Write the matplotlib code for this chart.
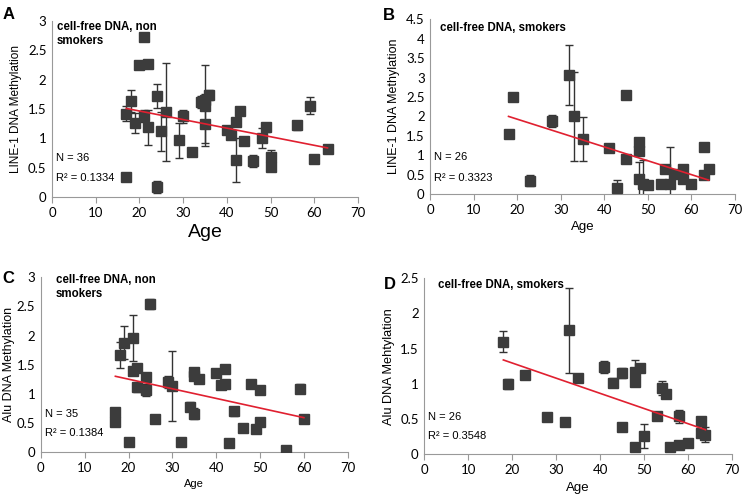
import numpy as np
import matplotlib
matplotlib.use("Agg")
import matplotlib.pyplot as plt

plt.rcParams['font.family'] = ['Liberation Sans', 'DejaVu Sans']

# Panel A - LINE-1, non smokers
age_a = [17, 18, 17, 19, 20, 21, 21, 22, 22, 24, 24, 25, 26, 29, 30, 32, 34, 35,
         35, 36, 35, 40, 41, 42, 42, 43, 44, 46, 48, 49, 50, 50, 56, 59, 60, 63]
val_a = [1.42, 1.64, 0.35, 1.26, 2.25, 2.73, 1.38, 2.26, 1.19, 1.72, 0.17, 1.12, 1.45, 0.97, 1.38, 0.77, 1.62, 1.56,
         1.24, 1.74, 1.66, 1.15, 1.06, 1.28, 0.63, 1.47, 0.96, 0.61, 1.0, 1.19, 0.69, 0.51, 1.22, 1.56, 0.65, 0.82]
err_a = [0.13, 0.19, 0, 0.17, 0, 0, 0.1, 0.05, 0.3, 0.2, 0.1, 0.33, 0.83, 0.3, 0.11, 0, 0.1, 0.69,
         0.32, 0.08, 0.1, 0, 0, 0, 0.38, 0, 0.05, 0.1, 0.17, 0.08, 0.12, 0, 0.07, 0.14, 0, 0]

# Panel B - LINE-1, smokers
age_b = [18, 19, 23, 28, 32, 33, 35, 41, 43, 45, 45, 48, 48, 48, 49, 50, 53, 54, 55, 56, 58, 58, 60, 63, 63, 64]
val_b = [1.55, 2.5, 0.35, 1.88, 3.07, 2.0, 1.42, 1.2, 0.15, 2.56, 0.9, 1.35, 1.1, 0.38, 0.25, 0.24, 0.27, 0.65,
         0.27, 0.52, 0.65, 0.4, 0.25, 1.22, 0.48, 0.65]
err_b = [0.05, 0, 0.15, 0.16, 0.78, 1.14, 0.57, 0, 0.22, 0.05, 0, 0, 0, 0.44, 0.63, 0, 0, 0,
         0.95, 0, 0, 0, 0, 0, 0, 0]

# Panel C - Alu, non smokers
age_c = [17, 17, 18, 19, 20, 21, 21, 22, 22, 24, 24, 25, 26, 29, 30, 32, 34, 35, 35, 35, 36, 40, 41, 42, 42,
         43, 44, 46, 48, 49, 50, 50, 56, 59, 60]
val_c = [0.68, 0.52, 1.67, 1.88, 0.18, 1.96, 1.39, 1.45, 1.11, 1.28, 1.07, 2.54, 0.57, 1.2, 1.13, 0.18, 0.78,
         1.38, 1.3, 0.66, 1.26, 1.36, 1.15, 1.42, 1.16, 0.15, 0.7, 0.42, 1.16, 0.4, 1.07, 0.52, 0.04, 1.09, 0.56]
err_c = [0, 0, 0.22, 0.29, 0, 0.4, 0, 0, 0.08, 0.06, 0.1, 0.08, 0, 0.1, 0.6, 0, 0.08,
         0, 0, 0.1, 0, 0, 0, 0, 0, 0, 0.08, 0, 0, 0, 0, 0, 0, 0.08, 0]

# Panel D - Alu, smokers
age_d = [18, 19, 23, 28, 32, 33, 35, 41, 43, 45, 45, 48, 48, 48, 49, 50, 53, 54, 55, 56, 58, 58, 60, 63, 63, 64]
val_d = [1.6, 1.0, 1.13, 0.53, 0.46, 1.76, 1.09, 1.24, 1.02, 1.16, 0.39, 1.17, 1.03, 0.11, 1.22, 0.26, 0.55, 0.94,
         0.86, 0.1, 0.54, 0.13, 0.16, 0.47, 0.31, 0.28]
err_d = [0.15, 0.07, 0, 0, 0, 0.6, 0, 0.08, 0.07, 0.07, 0, 0.17, 0, 0, 0, 0.17, 0, 0.1,
         0, 0, 0.09, 0, 0, 0, 0, 0.11]

# trend lines (slope, intercept)
trend_slope = [-0.01462, -0.03565, -0.01652, -0.0215]
trend_icpt = [1.759, 2.642, 1.581, 1.727]

n_labels = ["N = 36", "N = 26", "N = 35", "N = 26"]
r2_labels = ["R² = 0.1334", "R² = 0.3323", "R² = 0.1384", "R² = 0.3548"]
titles = ["cell-free DNA, non\nsmokers", "cell-free DNA, smokers", "cell-free DNA, non\nsmokers", "cell-free DNA, smokers"]
ylabels = ["LINE-1 DNA Methylation", "LINE-1 DNA Methylation", "Alu DNA Methylation", "Alu DNA Mehtylation"]
letters = ["A", "B", "C", "D"]
ymax = [3, 4.5, 3, 2.5]

fig = plt.figure(figsize=(7.43, 4.94), dpi=100)
rects = [[0.070, 0.601, 0.412, 0.3565],
         [0.579, 0.607, 0.410, 0.354],
         [0.055, 0.085, 0.413, 0.3537],
         [0.571, 0.080, 0.414, 0.357]]
xlab_size = [14, 9.5, 8, 9.5]
ylab_size = [8.5, 9, 9, 9.2]
ylab_pad = [4, 4, 1, 4]
txt_pos = [(0.015, 1.0, 0.22, 0.108), (0.032, 0.985, 0.213, 0.09),
           (0.049, 1.02, 0.22, 0.11), (0.044, 0.995, 0.21, 0.106)]
letter_pos = [(0.003, 0.985), (0.515, 0.983), (0.003, 0.452), (0.517, 0.44)]

data = [(age_a, val_a, err_a), (age_b, val_b, err_b), (age_c, val_c, err_c), (age_d, val_d, err_d)]

for i in range(4):
    ax = fig.add_axes(rects[i])
    x, y, e = data[i]
    ax.errorbar(x, y, yerr=e, fmt='s', color='#3c3c3c', markersize=7, ecolor='#333333',
                elinewidth=1, capsize=3, capthick=1, zorder=3)
    xs = np.array([min(x), max(x)])
    ax.plot(xs, trend_slope[i] * xs + trend_icpt[i], color='#e02030', lw=1.2, zorder=4)
    ax.set_xlim(0, 70)
    ax.set_ylim(0, ymax[i])
    ax.set_xticks(np.arange(0, 71, 10))
    ax.set_yticks(np.arange(0, ymax[i] + 0.01, 0.5))
    ax.set_yticklabels([f"{v:g}" for v in np.arange(0, ymax[i] + 0.01, 0.5)])
    for s in ['top', 'right']:
        ax.spines[s].set_visible(False)
    for s in ['left', 'bottom']:
        ax.spines[s].set_color('#999999')
        ax.spines[s].set_linewidth(0.8)
    ax.tick_params(axis='x', length=4, color='#999999', labelsize=9.5, pad=3)
    ax.tick_params(axis='y', length=0, labelsize=9.5, pad=4)
    for lab in ax.get_xticklabels() + ax.get_yticklabels():
        lab.set_fontfamily('Lato')
    ax.set_xlabel("Age", fontsize=xlab_size[i], labelpad=4)
    ax.set_ylabel(ylabels[i], fontsize=ylab_size[i], labelpad=ylab_pad[i])
    tx, ty, nx, ry = txt_pos[i]
    ax.text(tx, ty, titles[i], transform=ax.transAxes, fontsize=8.3, fontweight='bold',
            va='top', ha='left', linespacing=1.2)
    ax.text(0.012, nx, n_labels[i], transform=ax.transAxes, fontsize=8, va='center')
    ax.text(0.012, ry, r2_labels[i], transform=ax.transAxes, fontsize=8, va='center')
    fig.text(letter_pos[i][0], letter_pos[i][1], letters[i], fontsize=12, fontweight='bold',
             va='top', ha='left')

fig.savefig("out.png", dpi=100)
